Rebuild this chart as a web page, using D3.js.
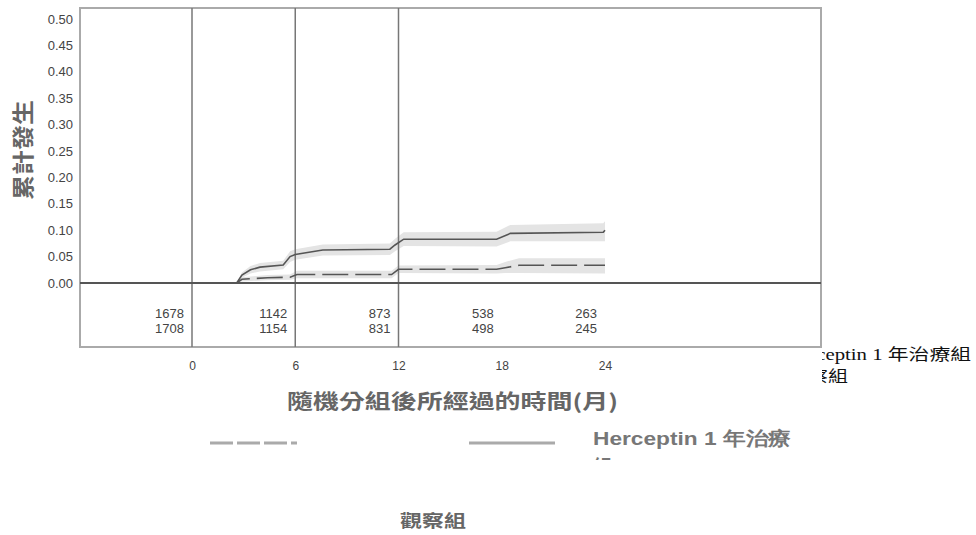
<!DOCTYPE html>
<html><head><meta charset="utf-8">
<script src="https://cdn.jsdelivr.net/npm/d3@7"></script>
<style>html,body{margin:0;padding:0;background:#fff;}svg{display:block;}</style>
</head><body>
<svg id="c" width="976" height="535"></svg>
<script>
// ---- data ----
const xTicks = [0, 6, 12, 18, 24];
const yTicks = [0, 0.05, 0.10, 0.15, 0.20, 0.25, 0.30, 0.35, 0.40, 0.45, 0.50];
const refLines = [0, 6, 12];
const riskTimes = [0, 6, 12, 18, 24];
const riskRow1 = [1678, 1142, 873, 538, 263];
const riskRow2 = [1708, 1154, 831, 498, 245];

const solidT  = [0, 2.6, 2.9, 3.4, 3.95, 5.3, 5.7, 6.0, 7.6, 11.5, 11.8, 12.3, 17.7, 18.5, 23.9, 24.0];
const solidV  = [0, 0, 0.015, 0.025, 0.030, 0.034, 0.050, 0.054, 0.0625, 0.064, 0.072, 0.083, 0.083, 0.094, 0.096, 0.100];
const solidLo = [0, 0, 0.010, 0.018, 0.022, 0.026, 0.040, 0.044, 0.052, 0.053, 0.060, 0.070, 0.069, 0.079, 0.079, 0.079];
const solidHi = [0, 0, 0.020, 0.032, 0.038, 0.042, 0.060, 0.064, 0.073, 0.075, 0.084, 0.096, 0.097, 0.110, 0.113, 0.117];

const dashT  = [0, 2.6, 2.9, 4.4, 5.7, 6.1, 11.6, 12.0, 17.7, 18.2, 19.0, 24.0];
const dashV  = [0, 0, 0.007, 0.010, 0.011, 0.016, 0.016, 0.026, 0.026, 0.029, 0.0335, 0.0335];
const dashLo = [0, 0, 0.003, 0.005, 0.006, 0.009, 0.009, 0.019, 0.018, 0.019, 0.019, 0.018];
const dashHi = [0, 0, 0.011, 0.015, 0.016, 0.023, 0.023, 0.033, 0.034, 0.040, 0.047, 0.047];

const yTitle = "累計發生";
const xTitle = "隨機分組後所經過的時間(月)";
const legendSolid = "Herceptin 1 年治療";
const legendSolid2 = "組";
const legendDash = "觀察組";
const sideLegend1 = "Herceptin 1 年治療組";
const sideLegend2 = "觀察組";

// ---- layout ----
const svg = d3.select("#c");
const box = {l: 80, r: 821, t: 8, zero: 283, b: 347};
const x = d3.scaleLinear().domain([0, 24]).range([192, 605]);
const y = d3.scaleLinear().domain([0, 0.5]).range([283, 19]);

// bands
const area = d3.area().x(d => x(d.t)).y0(d => y(d.lo)).y1(d => y(d.hi));
const solidData = solidT.map((t, i) => ({t, v: solidV[i], lo: solidLo[i], hi: solidHi[i]}));
const dashData = dashT.map((t, i) => ({t, v: dashV[i], lo: dashLo[i], hi: dashHi[i]}));
svg.append("path").datum(solidData.filter(d => d.t >= 2.6)).attr("d", area).attr("fill", "#e4e4e4");
svg.append("path").datum(dashData.filter(d => d.t >= 2.6)).attr("d", area).attr("fill", "#e4e4e4");

// box
svg.append("rect").attr("x", box.l).attr("y", box.t).attr("width", box.r - box.l).attr("height", box.b - box.t)
  .attr("fill", "none").attr("stroke", "#aaa").attr("stroke-width", 2);
// vertical reference lines
svg.selectAll("line.ref").data(refLines).enter().append("line")
  .attr("x1", d => x(d)).attr("x2", d => x(d)).attr("y1", box.t).attr("y2", box.b)
  .attr("stroke", "#777").attr("stroke-width", 1.5);
// zero line
svg.append("line").attr("x1", box.l).attr("x2", box.r).attr("y1", y(0)).attr("y2", y(0))
  .attr("stroke", "#555").attr("stroke-width", 2);

// curves
const line = d3.line().x(d => x(d.t)).y(d => y(d.v));
svg.append("path").datum(solidData).attr("d", line).attr("fill", "none").attr("stroke", "#555").attr("stroke-width", 1.6);
svg.append("path").datum(dashData).attr("d", line).attr("fill", "none").attr("stroke", "#555").attr("stroke-width", 1.6)
  .attr("stroke-dasharray", "26,7");

// y axis tick labels
const yAxis = d3.axisLeft(y).tickValues(yTicks).tickFormat(d3.format(".2f")).tickSize(0).tickPadding(0);
const gy = svg.append("g").attr("transform", "translate(73,0)").call(yAxis);
gy.select(".domain").remove();
gy.selectAll("text").attr("font-family", "Liberation Sans, Arial, sans-serif").attr("font-size", 13)
  .attr("fill", "#444").attr("dy", "0.32em");

// x axis tick labels
const xAxis = d3.axisBottom(x).tickValues(xTicks).tickFormat(d3.format("d")).tickSize(0).tickPadding(0);
const gx = svg.append("g").attr("transform", "translate(0,361)").call(xAxis);
gx.select(".domain").remove();
gx.selectAll("text").attr("font-family", "Liberation Sans, Arial, sans-serif").attr("font-size", 12).attr("fill", "#444");

// at risk numbers
const riskFont = "Liberation Sans, Arial, sans-serif";
svg.selectAll("text.r1").data(riskTimes).enter().append("text")
  .attr("x", d => x(d) - 8).attr("y", 318).attr("text-anchor", "end")
  .attr("font-family", riskFont).attr("font-size", 13).attr("fill", "#444")
  .text((d, i) => riskRow1[i]);
svg.selectAll("text.r2").data(riskTimes).enter().append("text")
  .attr("x", d => x(d) - 8).attr("y", 333).attr("text-anchor", "end")
  .attr("font-family", riskFont).attr("font-size", 13).attr("fill", "#444")
  .text((d, i) => riskRow2[i]);

// y title
svg.append("text").attr("transform", "translate(31,150) rotate(-90)").attr("text-anchor", "middle")
  .attr("font-family", "Noto Sans CJK TC, sans-serif").attr("font-weight", "bold").attr("font-size", 22)
  .attr("fill", "#666").attr("textLength", 100).attr("lengthAdjust", "spacingAndGlyphs").text(yTitle);

// x title
svg.append("text").attr("x", 287).attr("y", 409)
  .attr("font-family", "Noto Sans CJK TC, sans-serif").attr("font-weight", "bold").attr("font-size", 20)
  .attr("fill", "#666").attr("textLength", 331).attr("lengthAdjust", "spacingAndGlyphs").text(xTitle);

// bottom legend
svg.append("line").attr("x1", 210).attr("x2", 297).attr("y1", 443).attr("y2", 443)
  .attr("stroke", "#aaa").attr("stroke-width", 3).attr("stroke-dasharray", "23,4");
svg.append("line").attr("x1", 469).attr("x2", 555).attr("y1", 443).attr("y2", 443)
  .attr("stroke", "#aaa").attr("stroke-width", 3);
const defs = svg.append("defs");
defs.append("clipPath").attr("id", "legclip").append("rect")
  .attr("x", 560).attr("y", 400).attr("width", 300).attr("height", 60);
const lg = svg.append("g").attr("clip-path", "url(#legclip)");
lg.append("text").attr("x", 593).attr("y", 445)
  .attr("font-family", "Liberation Sans, Arial, sans-serif").attr("font-weight", "bold").attr("font-size", 19)
  .attr("fill", "#777").attr("textLength", 198).attr("lengthAdjust", "spacingAndGlyphs").text(legendSolid);
lg.append("text").attr("x", 593).attr("y", 474)
  .attr("font-family", "Noto Sans CJK TC, sans-serif").attr("font-weight", "bold").attr("font-size", 19)
  .attr("fill", "#777").text(legendSolid2);
svg.append("text").attr("x", 433).attr("y", 527).attr("text-anchor", "middle")
  .attr("font-family", "Noto Sans CJK TC, sans-serif").attr("font-weight", "bold").attr("font-size", 17)
  .attr("fill", "#666").attr("textLength", 66).attr("lengthAdjust", "spacingAndGlyphs").text(legendDash);

// side legend (clipped at box edge)
defs.append("clipPath").attr("id", "sideclip").append("rect")
  .attr("x", 822).attr("y", 330).attr("width", 160).attr("height", 80);
const sg = svg.append("g").attr("clip-path", "url(#sideclip)");
sg.append("text").attr("x", 785).attr("y", 360)
  .attr("font-family", "Liberation Serif, Times New Roman, Noto Sans CJK TC, serif").attr("font-size", 16)
  .attr("fill", "#111").attr("textLength", 186).attr("lengthAdjust", "spacingAndGlyphs").text(sideLegend1);
sg.append("text").attr("x", 788).attr("y", 382)
  .attr("font-family", "Liberation Serif, Times New Roman, Noto Sans CJK TC, serif").attr("font-size", 16)
  .attr("fill", "#111").attr("textLength", 60).attr("lengthAdjust", "spacingAndGlyphs").text(sideLegend2);
</script>
</body></html>
